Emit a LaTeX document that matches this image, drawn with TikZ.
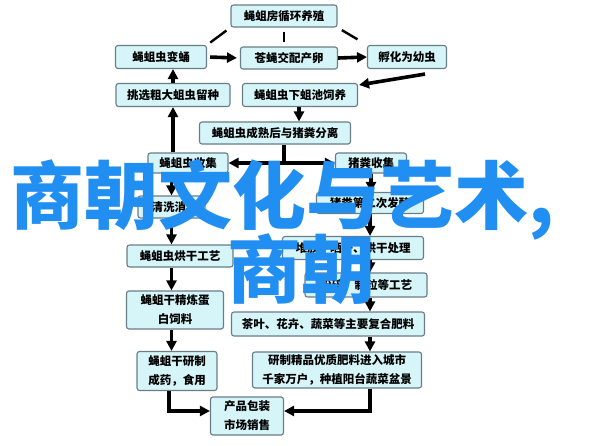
\documentclass[tikz,border=0pt]{standalone}
\usepackage{fontspec}
\usetikzlibrary{arrows.meta,calc}
\newfontfamily\cjk{Noto Sans CJK SC}
\definecolor{boxfill}{RGB}{214,245,249}
\definecolor{boxline}{RGB}{105,125,135}
\definecolor{wmblue}{RGB}{33,142,242}
\tikzset{
  pbox/.style={draw=boxline, line width=1.1pt, fill=boxfill, rounded corners=2.5pt,
    inner sep=0pt, align=center, font=\cjk\bfseries\fontsize{11.5}{19}\selectfont},
  flow/.style={line width=3.6pt, -{Triangle[length=10pt,width=10pt]}},
  tie/.style={line width=2.4pt}
}
\begin{document}
\begin{tikzpicture}[x=1pt,y=-1pt]
\fill[white] (0,0) rectangle (604,445);
\useasboundingbox (0,0) rectangle (604,445);
% boxes
\node[pbox, minimum width=106pt, minimum height=22pt] (top) at (284,16) {蝇蛆房循环养殖};
\node[pbox, minimum width=91pt, minimum height=23pt] (bian) at (161,57) {蝇蛆虫变蛹};
\node[pbox, minimum width=97pt, minimum height=22pt] (cang) at (289,58) {苍蝇交配产卵};
\node[pbox, minimum width=79pt, minimum height=23pt] (fu) at (407,57) {孵化为幼虫};
\node[pbox, minimum width=114pt, minimum height=23pt] (tiao) at (173,95) {挑选粗大蛆虫留种};
\node[pbox, minimum width=115pt, minimum height=23pt] (xia) at (300,95) {蝇蛆虫下蛆池饲养};
\node[pbox, minimum width=151pt, minimum height=22pt] (cheng) at (275,133) {蝇蛆虫成熟后与猪粪分离};
\node[pbox, minimum width=80pt, minimum height=20pt] (shou) at (188,163) {蝇蛆虫收集};
\node[pbox, minimum width=71pt, minimum height=20pt] (zhu) at (371,163) {猪粪收集};
\node[pbox, minimum width=67pt, minimum height=22pt] (qing) at (171.5,207) {\hspace*{6pt}清洗消毒};
\node[pbox, minimum width=107pt, minimum height=21pt] (fa) at (370,203) {猪粪第二次发酵};
\node[pbox, minimum width=106pt, minimum height=22pt] (hong) at (180,256) {蝇蛆虫烘干工艺};
\node[pbox, minimum width=97pt, minimum height=38pt] (jing) at (175,310) {蝇蛆干精炼蛋\\白饲料};
\node[pbox, minimum width=80pt, minimum height=39pt] (yan) at (177,371) {蝇蛆干研制\\成药，食用};
\node[pbox, minimum width=141pt, minimum height=23pt] (dui) at (353,248) {堆放、晒干、烘干处理};
\node[pbox, minimum width=122pt, minimum height=24pt] (fen) at (366,285) {粉碎、制粒等工艺};
\node[pbox, minimum width=193pt, minimum height=24pt] (cha) at (328,324) {茶叶、花卉、蔬菜等主要复合肥料};
\node[pbox, minimum width=169pt, minimum height=36pt] (yz) at (337,370) {研制精品优质肥料进入城市\\千家万户，种植阳台蔬菜盆景};
\node[pbox, minimum width=73pt, minimum height=38pt] (chan) at (247,416) {产品包装\\市场销售};
% ties from top box
\draw[tie, shorten <=5pt, shorten >=4pt] (top.south west) -- (bian.north east);
\draw[tie, shorten <=4pt, shorten >=4pt] (top.south) -- (top.south |- cang.north);
\draw[tie, shorten <=5pt, shorten >=11pt] (top.south east) -- (fu.north west);
% arrows
\draw[flow, shorten <=3pt, shorten >=3pt] (bian.east) -- (cang.west);
\draw[flow] (cang.east) -- (fu.west);
\coordinate (fuout) at ($(fu.south)+(18,5)$);
\draw[flow] (fuout) -- ([xshift=1pt,yshift=-2pt]xia.north east);
\draw[flow] (tiao.north) -- (tiao.north |- bian.south);
\draw[flow] (xia.south -| 299,0) -- (299,0 |- cheng.north);
\draw[flow, line width=4.4pt] (tiao.south |- shou.north) -- (tiao.south);
\coordinate (split) at (284,163);
\draw[line width=3.6pt] (cheng.south -| split) -- (split);
\draw[flow] (split) -- (shou.east);
\draw[flow] (split) -- (zhu.west);
\draw[flow] (qing.north |- shou.south) -- (qing.north);
\draw[flow] (zhu.south) -- (zhu.south |- fa.north);
\draw[flow] (fa.south) -- (fa.south |- dui.north);
\draw[flow] (fa.south |- dui.south) -- (fa.south |- fen.north);
\draw[flow] (fa.south |- fen.south) -- (fa.south |- cha.north);
\draw[flow] (fa.south |- cha.south) -- (fa.south |- yz.north);
\draw[flow] (qing.south) -- (qing.south |- hong.north);
\draw[flow] (qing.south |- hong.south) -- (qing.south |- jing.north);
\draw[flow] (qing.south |- jing.south) -- (qing.south |- yan.north);
\draw[flow] ($(yan.south)+(-8,0)$) |- ([yshift=5pt]chan.west);
\draw[flow] (fa.south |- yz.south) |- ([yshift=5pt]chan.east);
% watermark
\node[anchor=base west, inner sep=0pt, text=wmblue, font=\cjk\bfseries\fontsize{74}{74}\selectfont] (wm1) at (10,223) {商朝文化与艺术,};
\node[anchor=base west, inner sep=0pt, text=wmblue, font=\cjk\bfseries\fontsize{74}{74}\selectfont] (wm2) at (227,297) {商朝};
\end{tikzpicture}
\end{document}
